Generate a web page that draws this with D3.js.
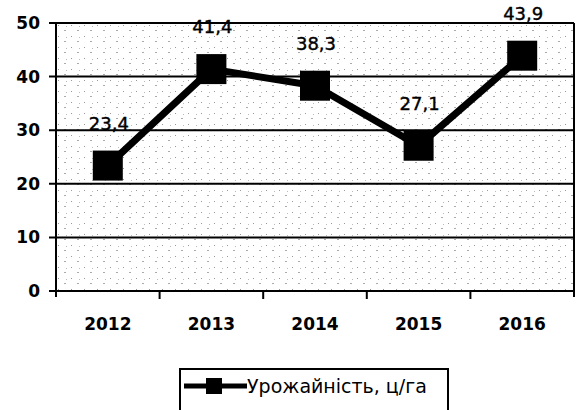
<!DOCTYPE html>
<html>
<head>
<meta charset="utf-8">
<script src="https://cdn.jsdelivr.net/npm/d3@7"></script>
<style>
  body { margin: 0; background: #fff; }
  svg { display: block; font-family: "DejaVu Sans", Verdana, sans-serif; }
</style>
</head>
<body>
<svg id="chart" width="577" height="410"></svg>
<script>
// chart data
const years = ['2012', '2013', '2014', '2015', '2016'];
const yieldValues = [23.4, 41.4, 38.3, 27.1, 43.9];
const yTicks = [0, 10, 20, 30, 40, 50];
const seriesName = 'Урожайність, ц/га';

const svg = d3.select('#chart');
const m = { t: 23, r: 3, b: 119, l: 56 };
const w = 577 - m.l - m.r, h = 410 - m.t - m.b;

const x = d3.scaleBand().domain(years).range([0, w]);
const y = d3.scaleLinear().domain([0, 50]).range([h, 0]);

// light speckled background, like the scanned original
const defs = svg.append('defs');
const pat = defs.append('pattern')
    .attr('id', 'dots')
    .attr('width', 13).attr('height', 11)
    .attr('patternUnits', 'userSpaceOnUse');
pat.append('rect').attr('width', 13).attr('height', 11).attr('fill', '#fff');
pat.append('rect').attr('x', 2).attr('y', 2).attr('width', 1).attr('height', 1).attr('fill', '#999');
pat.append('rect').attr('x', 8).attr('y', 7).attr('width', 2).attr('height', 1).attr('fill', '#aaa');
pat.append('rect').attr('x', 10).attr('y', 3).attr('width', 1).attr('height', 1).attr('fill', '#bbb');

const g = svg.append('g').attr('transform', `translate(${m.l},${m.t})`);

g.append('rect')
    .attr('width', w).attr('height', h)
    .attr('fill', 'url(#dots)');

// gridlines
g.append('g')
    .selectAll('line')
    .data(yTicks)
    .join('line')
    .attr('x1', -7).attr('x2', w)
    .attr('y1', d => y(d)).attr('y2', d => y(d))
    .attr('stroke', '#000')
    .attr('stroke-width', 2);

// y axis
const yAxis = g.append('g')
    .call(d3.axisLeft(y).tickValues(yTicks).tickSize(0).tickPadding(16));
yAxis.attr('font-size', null).attr('font-family', null);
yAxis.select('.domain').remove();
yAxis.selectAll('text')
    .style('font-size', '17px').style('font-weight', 'bold').attr('fill', '#000');

g.append('line')
    .attr('x1', 0).attr('x2', 0).attr('y1', 0).attr('y2', h + 6)
    .attr('stroke', '#000').attr('stroke-width', 2);
g.append('line')
    .attr('x1', w).attr('x2', w).attr('y1', 0).attr('y2', h + 6)
    .attr('stroke', '#000').attr('stroke-width', 2);

// x axis, ticks between categories
const xAxis = g.append('g')
    .attr('transform', `translate(0,${h})`)
    .call(d3.axisBottom(x).tickSize(0).tickPadding(27));
xAxis.attr('font-size', null).attr('font-family', null);
xAxis.select('.domain').remove();
xAxis.selectAll('text')
    .style('font-size', '17px').style('font-weight', 'bold').attr('fill', '#000');
g.append('g')
    .selectAll('line')
    .data(years.slice(1))
    .join('line')
    .attr('x1', d => x(d)).attr('x2', d => x(d))
    .attr('y1', h).attr('y2', h + 8)
    .attr('stroke', '#000').attr('stroke-width', 2);

// series
const cx = d => x(d) + x.bandwidth() / 2;
const pts = years.map((d, i) => [cx(d), y(yieldValues[i])]);

g.append('path')
    .attr('d', d3.line()(pts))
    .attr('fill', 'none')
    .attr('stroke', '#000')
    .attr('stroke-width', 7)
    .attr('stroke-linejoin', 'round');

const ms = 30;
g.append('g')
    .selectAll('rect')
    .data(pts)
    .join('rect')
    .attr('x', d => d[0] - ms / 2).attr('y', d => d[1] - ms / 2)
    .attr('width', ms).attr('height', ms)
    .attr('fill', '#000');

g.append('g')
    .selectAll('text')
    .data(pts)
    .join('text')
    .attr('x', d => d[0] + 1)
    .attr('y', d => d[1] - 36)
    .attr('text-anchor', 'middle')
    .style('font-size', '18px')
    .attr('fill', '#000')
    .attr('stroke', '#000')
    .attr('stroke-width', 0.4)
    .text((d, i) => String(yieldValues[i]).replace('.', ','));

// legend
const lg = svg.append('g').attr('transform', 'translate(180,369)');
lg.append('rect')
    .attr('width', 268).attr('height', 46)
    .attr('fill', '#fff').attr('stroke', '#000').attr('stroke-width', 2);
lg.append('line')
    .attr('x1', 4).attr('x2', 67).attr('y1', 17).attr('y2', 17)
    .attr('stroke', '#000').attr('stroke-width', 5);
lg.append('rect')
    .attr('x', 26).attr('y', 9).attr('width', 16).attr('height', 16)
    .attr('fill', '#000');
lg.append('text')
    .attr('x', 67).attr('y', 24)
    .style('font-size', '19px')
    .attr('fill', '#000')
    .text(seriesName);
</script>
</body>
</html>
